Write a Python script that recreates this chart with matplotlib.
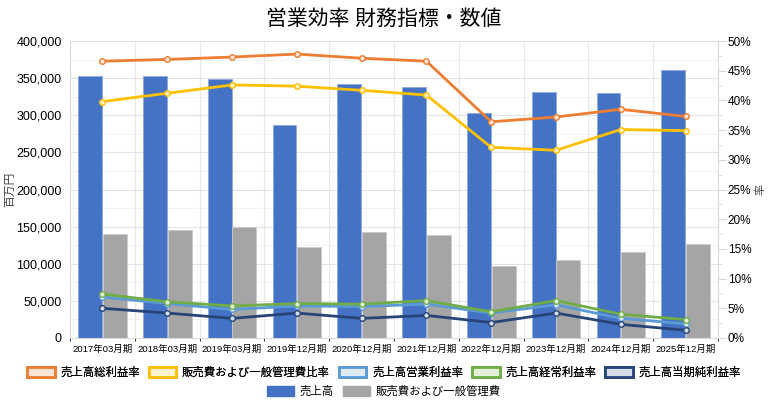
import matplotlib
matplotlib.use("Agg")
import matplotlib.pyplot as plt
import numpy as np
from matplotlib.patches import Patch
from matplotlib.ticker import FuncFormatter, MultipleLocator

plt.rcParams['font.family'] = ['Liberation Sans', 'Noto Sans CJK JP', 'DejaVu Sans']

categories = ["2017年03月期", "2018年03月期", "2019年03月期", "2019年12月期", "2020年12月期",
              "2021年12月期", "2022年12月期", "2023年12月期", "2024年12月期", "2025年12月期"]
sales = [353000, 353000, 349000, 287000, 342000, 337500, 303000, 331000, 330500, 360500]
sga = [140000, 145000, 149000, 122000, 143000, 139000, 97000, 105000, 116000, 126000]
gross_margin = [46.6, 46.9, 47.3, 47.8, 47.1, 46.6, 36.4, 37.2, 38.5, 37.3]
sga_ratio = [39.8, 41.2, 42.6, 42.4, 41.7, 40.9, 32.1, 31.6, 35.1, 34.9]
op_margin = [6.9, 5.8, 4.8, 5.4, 5.3, 5.7, 4.2, 5.6, 3.3, 2.4]
ord_margin = [7.4, 6.1, 5.4, 5.8, 5.7, 6.3, 4.4, 6.3, 4.0, 3.1]
net_margin = [5.0, 4.2, 3.3, 4.2, 3.3, 3.8, 2.6, 4.2, 2.3, 1.3]

line_series = [
    ("売上高総利益率", gross_margin, "#ED7D31", "#FBE5D6"),
    ("販売費および一般管理費比率", sga_ratio, "#FFC000", "#FFF2CC"),
    ("売上高営業利益率", op_margin, "#5B9BD5", "#DEEBF7"),
    ("売上高経常利益率", ord_margin, "#70AD47", "#E2F0D9"),
    ("売上高当期純利益率", net_margin, "#264478", "#D6DCE5"),
]

fig = plt.figure(figsize=(7.68, 4.05), dpi=100)
ax = fig.add_axes([70/768, 1-338/405, 648/768, 297/405])
ax2 = ax.twinx()

x = np.arange(len(categories))
w = 0.37
ax.bar(x - 0.19, sales, w, color="#4472C4", edgecolor="#8FAADC", linewidth=0.6, zorder=2)
ax.bar(x + 0.19, sga, w, color="#A5A5A5", edgecolor="#C9C9C9", linewidth=0.6, zorder=2)

ax.set_xlim(-0.5, len(categories) - 0.5)
ax.set_ylim(0, 400000)
ax.yaxis.set_major_locator(MultipleLocator(50000))
ax.yaxis.set_minor_locator(MultipleLocator(25000))
ax.yaxis.set_major_formatter(FuncFormatter(lambda v, p: f"{int(v):,}"))
ax.set_xticks(x)
ax.set_xticklabels(categories, fontsize=6.8)
ax.tick_params(axis='x', length=0, pad=5)
ax.tick_params(axis='y', which='both', length=0, labelsize=9, pad=6)
ax.set_xticks(np.arange(-0.5, len(categories), 1), minor=True)
ax.grid(which='major', axis='y', color="#E3E3E3", linewidth=0.8, zorder=0)
ax.grid(which='minor', axis='y', color="#F0F0F0", linewidth=0.6, zorder=0)
ax.grid(which='minor', axis='x', color="#E8E8E8", linewidth=0.8, zorder=0)
ax.set_axisbelow(True)
for s in ["top", "right"]:
    ax.spines[s].set_visible(False)
ax.spines["left"].set_color("#D9D9D9")
ax.spines["bottom"].set_color("#D9D9D9")
fig.text(10/768, 0.5 * (1-338/405 + 1-41/405), "百万円", fontsize=8.5, rotation=90,
         ha='center', va='center', color="#444444")

for name, vals, c, fc in line_series:
    ax2.plot(x, vals, color=c, linewidth=2, marker='o', markersize=4,
             markerfacecolor=fc, markeredgecolor=c, markeredgewidth=1, zorder=3)
ax2.set_ylim(0, 50)
ax2.yaxis.set_major_locator(MultipleLocator(5))
ax2.yaxis.set_minor_locator(MultipleLocator(2.5))
ax2.yaxis.set_major_formatter(FuncFormatter(lambda v, p: f"{int(v)}%"))
ax2.tick_params(axis='y', which='major', length=6, color="#D9D9D9", labelsize=8.5, pad=1)
ax2.tick_params(axis='y', which='minor', length=3, color="#D9D9D9")
for s in ["top", "left", "bottom"]:
    ax2.spines[s].set_visible(False)
ax2.spines["right"].set_color("#D9D9D9")
fig.text(760/768, 0.5 * (1-338/405 + 1-41/405), "率", fontsize=8, rotation=90,
         ha='center', va='center', color="#444444")

fig.text(0.5, 0.952, "営業効率 財務指標・数値", ha='center', va='center', fontsize=15)

h1 = [Patch(facecolor=fc, edgecolor=c, linewidth=2, label=n) for n, v, c, fc in line_series]
leg1 = fig.legend(handles=h1, loc='center', bbox_to_anchor=(0.5, 1-372/405), ncol=5,
                  frameon=False, fontsize=8.2, handlelength=2.4, handleheight=1.0,
                  columnspacing=0.8, handletextpad=0.5, borderpad=0)
h2 = [Patch(facecolor="#4472C4", edgecolor="#4472C4", label="売上高"),
      Patch(facecolor="#A5A5A5", edgecolor="#A5A5A5", label="販売費および一般管理費")]
fig.legend(handles=h2, loc='center', bbox_to_anchor=(0.5, 1-391/405), ncol=2,
           frameon=False, fontsize=8.2, handlelength=2.4, handleheight=1.0,
           columnspacing=0.8, handletextpad=0.5, borderpad=0)
fig.add_artist(leg1)

fig.savefig("out.png", dpi=100)
